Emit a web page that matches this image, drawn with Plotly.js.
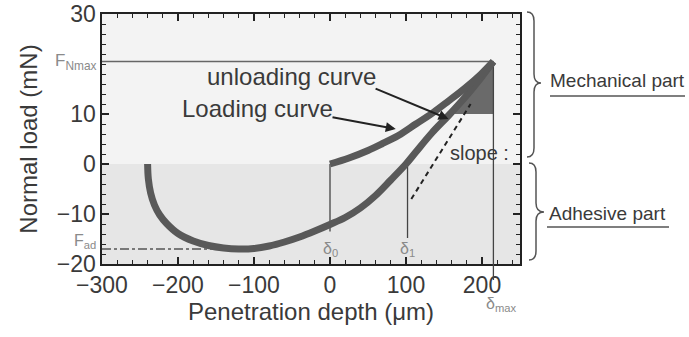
<!DOCTYPE html>
<html>
<head>
<meta charset="utf-8">
<script src="https://cdn.plot.ly/plotly-3.0.1.min.js"></script>
<style>html,body{margin:0;padding:0;background:#fff}#chart{width:689px;height:337px}</style>
</head>
<body>
<div id="chart"></div>
<script>
// ---- data ----
var loadX = [0, 25, 50, 68, 90, 113, 135, 156, 178, 199, 215];
var loadY = [0, 1.2, 2.7, 4.0, 5.7, 8.0, 10.2, 12.6, 15.2, 18.0, 20.5];
var unloadX = [215, 199, 178, 156, 134, 113, 100, 80, 60, 40, 20, 0, -20, -40, -60, -80, -100, -120, -140, -160, -180, -200, -215, -224, -231, -236, -239, -240];
var unloadY = [20.5, 17.3, 13.4, 9.7, 6.2, 2.4, 0, -3.2, -6.3, -8.8, -10.7, -12.1, -13.4, -14.6, -15.6, -16.4, -16.9, -17.0, -16.8, -16.3, -15.4, -13.9, -11.9, -10.2, -8.2, -5.8, -3, 0];
var tangentX = [107, 185];
var tangentY = [-7, 12];
var delta0 = 0, delta1 = 102, deltaMax = 215;
var FNmax = 20.5, Fad = -17, FadX = -110;
var slopeBase = 10;
var xTicks = [-300, -200, -100, 0, 100, 200];
var yTicks = [-20, -10, 0, 10, 30];

// ---- helpers ----
var L = 102, T = 14, W = 418, H = 250;
function PX(p){ return (p - L) / W; }
function PY(p){ return (T + H - p) / H; }
function brace(x0, x1, xt, y0, ym, y1, r){
  function P(x,y){ return PX(x) + ',' + PY(y); }
  return 'M' + P(x0,y0) + ' Q' + P(x1,y0) + ' ' + P(x1,y0+r) +
         ' L' + P(x1,ym-r) + ' Q' + P(x1,ym) + ' ' + P(xt,ym) +
         ' Q' + P(x1,ym) + ' ' + P(x1,ym+r) +
         ' L' + P(x1,y1-r) + ' Q' + P(x1,y1) + ' ' + P(x0,y1);
}

// slope fill polygon derived from the unloading curve
var fx = [], fy = [];
for (var i = 0; i < unloadX.length; i++) {
  if (unloadY[i] >= slopeBase) { fx.push(unloadX[i]); fy.push(unloadY[i]); }
  else {
    var t = (unloadY[i-1] - slopeBase) / (unloadY[i-1] - unloadY[i]);
    fx.push(unloadX[i-1] + t * (unloadX[i] - unloadX[i-1])); fy.push(slopeBase);
    break;
  }
}
fx.push(deltaMax); fy.push(slopeBase);
fx.push(deltaMax); fy.push(FNmax);

var curveColor = '#595959';
var thin = '#444';
var traces = [
  {x: fx, y: fy, mode: 'lines', fill: 'toself', fillcolor: '#6a6a6a', line: {width: 0}, hoverinfo: 'skip'},
  {x: [xTicks[0], deltaMax], y: [FNmax, FNmax], mode: 'lines', line: {color: '#666', width: 1.5}},
  {x: [xTicks[0], FadX], y: [Fad, Fad], mode: 'lines', line: {color: '#555', width: 1.5, dash: 'dashdot'}},
  {x: [delta0, delta0], y: [0, -13.5], mode: 'lines', line: {color: thin, width: 1.3}},
  {x: [delta1, delta1], y: [-0.5, -14.8], mode: 'lines', line: {color: thin, width: 1.3}},
  {x: [deltaMax, deltaMax], y: [FNmax, -20], mode: 'lines', line: {color: thin, width: 1.3}},
  {x: tangentX, y: tangentY, mode: 'lines', line: {color: '#222', width: 2, dash: '5px,4px'}},
  {x: unloadX, y: unloadY, mode: 'lines', line: {color: curveColor, width: 7, shape: 'spline', smoothing: 1}},
  {x: loadX, y: loadY, mode: 'lines', line: {color: curveColor, width: 7, shape: 'spline', smoothing: 1}}
];

var txt = '#3a3a3a', lab = '#8a8a8a';
var fam = '"Liberation Sans", Arial, Helvetica, sans-serif';
var layout = {
  width: 689, height: 337,
  margin: {l: L, r: 689 - L - W, t: T, b: 337 - T - H},
  paper_bgcolor: '#fff', plot_bgcolor: '#fff',
  showlegend: false,
  font: {family: fam, color: txt},
  xaxis: {
    range: [-300, 250], tickvals: xTicks, ticks: 'inside', ticklen: 7, tickwidth: 1.3, tickcolor: '#222',
    minor: {dtick: 20, tick0: 0, ticks: 'inside', ticklen: 4, tickcolor: '#222', tickwidth: 1},
    showline: true, linecolor: '#222', linewidth: 1.6, mirror: 'allticks',
    showgrid: false, zeroline: false, tickfont: {size: 23, color: txt},
    title: {text: 'Penetration depth (\u03bcm)', font: {size: 24, color: txt}, standoff: 6}
  },
  yaxis: {
    range: [-20, 30], tickvals: yTicks, ticks: 'inside', ticklen: 7, tickwidth: 1.3, tickcolor: '#222',
    minor: {dtick: 2, tick0: 0, ticks: 'inside', ticklen: 4, tickcolor: '#222', tickwidth: 1},
    showline: true, linecolor: '#222', linewidth: 1.6, mirror: 'allticks',
    showgrid: false, zeroline: false, tickfont: {size: 23, color: txt},
    title: {text: 'Normal load (mN)', font: {size: 24, color: txt}, standoff: 12}
  },
  shapes: [
    {type: 'rect', xref: 'x', yref: 'y', x0: -300, x1: 250, y0: 0, y1: 30, fillcolor: '#f3f3f3', line: {width: 0}, layer: 'below'},
    {type: 'rect', xref: 'x', yref: 'y', x0: -300, x1: 250, y0: -20, y1: 0, fillcolor: '#e6e6e6', line: {width: 0}, layer: 'below'},
    {type: 'line', xref: 'x', yref: 'paper', x0: deltaMax, x1: deltaMax, y0: 0, y1: PY(280), line: {color: thin, width: 1.3}},
    {type: 'path', xref: 'paper', yref: 'paper', path: brace(527, 534, 541, 12, 83, 157, 9), line: {color: '#555', width: 1.5}},
    {type: 'path', xref: 'paper', yref: 'paper', path: brace(529, 536, 544, 163, 212, 260, 9), line: {color: '#555', width: 1.5}},
    {type: 'line', xref: 'paper', yref: 'paper', x0: PX(550), x1: PX(685), y0: PY(96), y1: PY(96), line: {color: '#555', width: 1.5}},
    {type: 'line', xref: 'paper', yref: 'paper', x0: PX(547), x1: PX(669), y0: PY(227), y1: PY(227), line: {color: '#555', width: 1.5}}
  ],
  annotations: [
    {text: 'unloading curve', x: -51, y: 17.6, xref: 'x', yref: 'y', xanchor: 'center', showarrow: false, font: {size: 24, color: txt}},
    {text: 'Loading curve', x: -96, y: 11.2, xref: 'x', yref: 'y', xanchor: 'center', showarrow: false, font: {size: 24, color: txt}},
    {text: '', x: 156, y: 9, ax: 58, ay: 15.2, xref: 'x', yref: 'y', axref: 'x', ayref: 'y', showarrow: true, arrowhead: 2, arrowsize: 1, arrowwidth: 2, arrowcolor: '#222'},
    {text: '', x: 86.5, y: 7, ax: 1.3, ay: 9.4, xref: 'x', yref: 'y', axref: 'x', ayref: 'y', showarrow: true, arrowhead: 2, arrowsize: 1, arrowwidth: 2, arrowcolor: '#222'},
    {text: 'slope :', x: 155, y: 2.2, xref: 'x', yref: 'y', xanchor: 'left', showarrow: false, font: {size: 20, color: txt}},
    {text: 'Mechanical part', x: PX(617), y: PY(80), xref: 'paper', yref: 'paper', xanchor: 'center', yanchor: 'middle', showarrow: false, font: {size: 19, color: txt}},
    {text: 'Adhesive part', x: PX(607), y: PY(213), xref: 'paper', yref: 'paper', xanchor: 'center', yanchor: 'middle', showarrow: false, font: {size: 19, color: txt}},
    {text: '\u03b4<sub>0</sub>', x: delta0, y: -17, xref: 'x', yref: 'y', xanchor: 'center', showarrow: false, font: {size: 16, color: lab}},
    {text: '\u03b4<sub>1</sub>', x: delta1, y: -17, xref: 'x', yref: 'y', xanchor: 'center', showarrow: false, font: {size: 16, color: lab}},
    {text: '\u03b4<sub>max</sub>', x: deltaMax, y: PY(304), xref: 'x', yref: 'paper', xanchor: 'left', yanchor: 'middle', xshift: -9, showarrow: false, font: {size: 16, color: lab}},
    {text: 'F<sub>Nmax</sub>', x: PX(98), y: FNmax, xref: 'paper', yref: 'y', xanchor: 'right', yanchor: 'middle', showarrow: false, font: {size: 17, color: lab}},
    {text: 'F<sub>ad</sub>', x: PX(98), y: Fad, xref: 'paper', yref: 'y', xanchor: 'right', yanchor: 'middle', yshift: 8, showarrow: false, font: {size: 16, color: lab}}
  ]
};
Plotly.newPlot('chart', traces, layout, {staticPlot: true, displayModeBar: false});
</script>
</body>
</html>
